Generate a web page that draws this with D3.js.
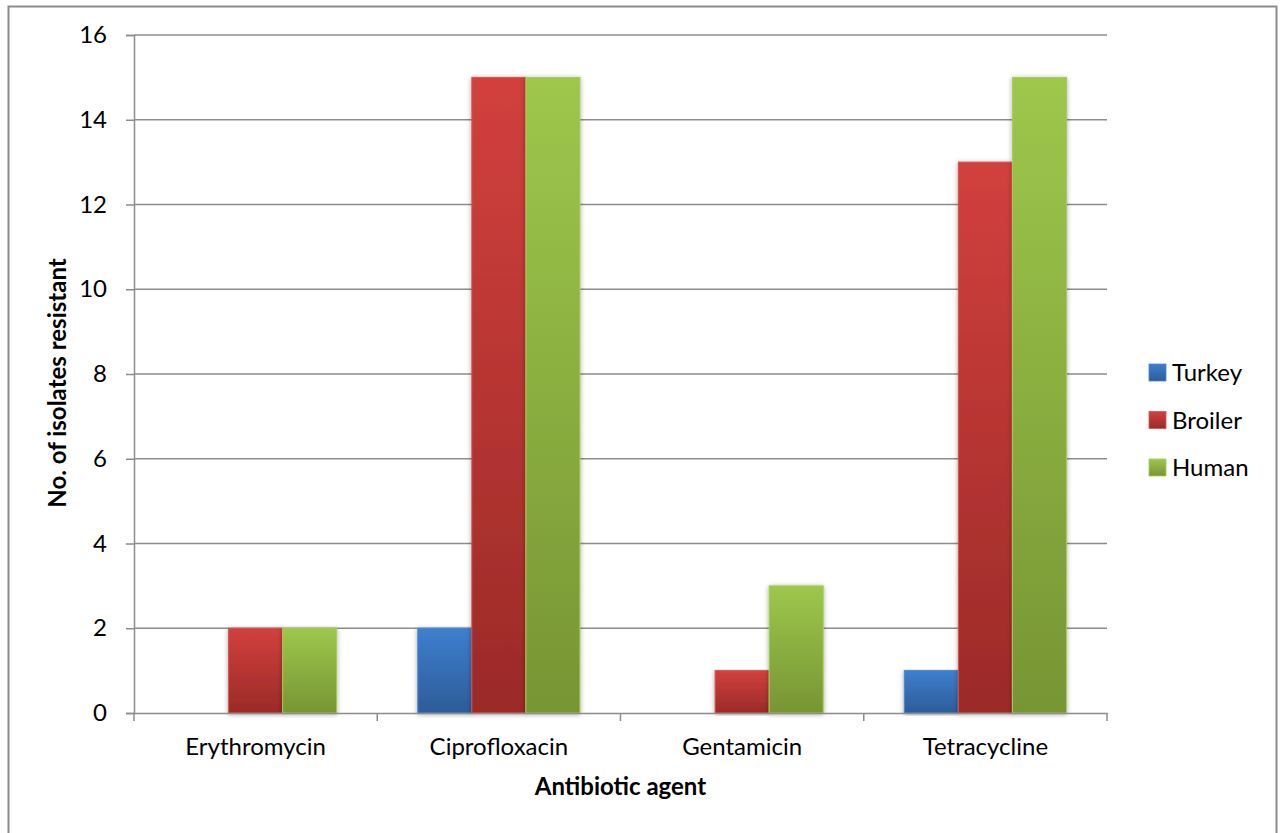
<!DOCTYPE html>
<html>
<head>
<meta charset="utf-8">
<script src="https://cdn.jsdelivr.net/npm/d3@7"></script>
<style>
  html, body { margin: 0; padding: 0; background: #fff; }
  svg { display: block; }
  text { font-family: Lato, "Open Sans", sans-serif; fill: #000; }
</style>
</head>
<body>
<svg id="chart" width="1285" height="833"></svg>
<script>
// Antibiotic resistance counts per source
const categories = ["Erythromycin", "Ciprofloxacin", "Gentamicin", "Tetracycline"];
const seriesNames = ["Turkey", "Broiler", "Human"];
const turkey  = [0, 2, 0, 1];
const broiler = [2, 15, 1, 13];
const human   = [2, 15, 3, 15];
const yTicks  = [0, 2, 4, 6, 8, 10, 12, 14, 16];

const seriesValues = [turkey, broiler, human];
const palette = [
  { top: "#3d7fcf", bottom: "#2d5c98", edge: "#4a87d0" },
  { top: "#d2403d", bottom: "#9b2a28", edge: "#d65350" },
  { top: "#9ec74c", bottom: "#779534", edge: "#a6cd5a" }
];

const svg = d3.select("#chart");
const plotLeft = 134, plotRight = 1107, plotTop = 35, plotBottom = 713;
const fontSize = 24;

// outer frame
svg.append("rect")
  .attr("x", 8.5).attr("y", 6.5).attr("width", 1268).attr("height", 840)
  .attr("fill", "#fff").attr("stroke", "#8c8c8c").attr("stroke-width", 2);

const defs = svg.append("defs");
palette.forEach((p, i) => {
  const g = defs.append("linearGradient").attr("id", "grad" + i)
    .attr("x1", 0).attr("y1", 0).attr("x2", 0).attr("y2", 1);
  g.append("stop").attr("offset", "0%").attr("stop-color", p.top);
  g.append("stop").attr("offset", "100%").attr("stop-color", p.bottom);
});
const shadow = defs.append("filter").attr("id", "shadow")
  .attr("x", "-20%").attr("y", "-5%").attr("width", "140%").attr("height", "110%");
shadow.append("feGaussianBlur").attr("in", "SourceAlpha").attr("stdDeviation", 2.5);
shadow.append("feOffset").attr("dx", 0).attr("dy", 1).attr("result", "b");
shadow.append("feComponentTransfer").append("feFuncA").attr("type", "linear").attr("slope", 0.35);
const merge = shadow.append("feMerge");
merge.append("feMergeNode");
merge.append("feMergeNode").attr("in", "SourceGraphic");

const x = d3.scaleBand().domain(categories).range([plotLeft, plotRight]).paddingInner(0).paddingOuter(0);
const xs = d3.scaleBand().domain(seriesNames).range([0, x.bandwidth()]).paddingInner(0).paddingOuter(0.75);
const y = d3.scaleLinear().domain([0, 16]).range([plotBottom, plotTop]);

// gridlines
svg.append("g").selectAll("line").data(yTicks.filter(t => t > 0)).join("line")
  .attr("x1", plotLeft).attr("x2", plotRight)
  .attr("y1", d => y(d)).attr("y2", d => y(d))
  .attr("stroke", "#8c8c8c").attr("stroke-width", 1.5);

// bars
const bars = svg.append("g");
seriesNames.forEach((s, si) => {
  bars.append("g").selectAll("rect").data(categories.map((c, ci) => ({ c, v: seriesValues[si][ci] })).filter(d => d.v > 0))
    .join("rect")
    .attr("x", d => x(d.c) + xs(s))
    .attr("y", d => y(d.v))
    .attr("width", xs.bandwidth())
    .attr("height", d => y(0) - y(d.v))
    .attr("fill", "url(#grad" + si + ")")
    .attr("stroke", palette[si].edge).attr("stroke-width", 1)
    .attr("filter", "url(#shadow)");
});

// y axis
const yAxis = d3.axisLeft(y).tickValues(yTicks).tickSize(8).tickPadding(19);
const gy = svg.append("g").attr("transform", `translate(${plotLeft},0)`).call(yAxis);
gy.select(".domain").attr("stroke", "#8c8c8c").attr("stroke-width", 1.5);
gy.selectAll(".tick line").attr("stroke", "#8c8c8c").attr("stroke-width", 1.5);
gy.selectAll(".tick text").attr("font-size", fontSize).attr("font-family", "Lato, sans-serif").attr("fill", "#000");

// x axis
const xAxis = d3.axisBottom(x).tickSize(0).tickPadding(0);
const gx = svg.append("g").attr("transform", `translate(0,${plotBottom})`).call(xAxis);
gx.select(".domain").attr("stroke", "#8c8c8c").attr("stroke-width", 1.5);
gx.selectAll(".tick text").attr("font-size", fontSize).attr("font-family", "Lato, sans-serif").attr("fill", "#000")
  .attr("y", 42).attr("dy", 0);
gx.selectAll(".boundary").data(d3.range(categories.length + 1)).join("line")
  .attr("class", "boundary")
  .attr("x1", i => plotLeft + i * x.step()).attr("x2", i => plotLeft + i * x.step())
  .attr("y1", 0).attr("y2", 8)
  .attr("stroke", "#8c8c8c").attr("stroke-width", 1.5);

// axis titles
svg.append("text").attr("x", (plotLeft + plotRight) / 2).attr("y", 795)
  .attr("text-anchor", "middle").attr("font-size", fontSize).attr("font-weight", "bold")
  .text("Antibiotic agent");
svg.append("text").attr("transform", `translate(66,383) rotate(-90)`)
  .attr("text-anchor", "middle").attr("font-size", fontSize).attr("font-weight", "bold")
  .text("No. of isolates resistant");

// legend
const legend = svg.append("g").attr("transform", "translate(1149,381)");
seriesNames.forEach((s, i) => {
  const row = legend.append("g").attr("transform", `translate(0,${i * 47.5})`);
  row.append("rect").attr("x", 0).attr("y", -17).attr("width", 17).attr("height", 17)
    .attr("fill", "url(#grad" + i + ")").attr("stroke", palette[i].edge).attr("stroke-width", 0.8);
  row.append("text").attr("x", 23).attr("y", 0)
    .attr("font-size", fontSize).text(s);
});
</script>
</body>
</html>
